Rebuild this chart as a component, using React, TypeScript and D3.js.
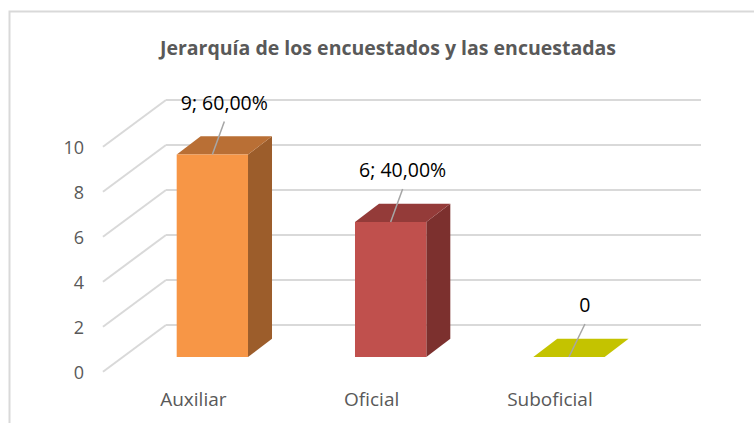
import React from "react"
import * as d3 from "d3"

const categories = ["Auxiliar", "Oficial", "Suboficial"]
const values = [9, 6, 0]
const valueLabels = ["9; 60,00%", "6; 40,00%", "0"]
const yTicks = [0, 2, 4, 6, 8, 10]
const title = "Jerarquía de los encuestados y las encuestadas"

const fronts = ["#F79646", "#C0504D", "#C4C300"]
const tops = ["#B96F35", "#943B39", "#C4C300"]
const sides = ["#9C5D2B", "#7C302E", "#A3A300"]

const W = 754
const H = 423
const FONT = "'Open Sans', 'DejaVu Sans', sans-serif"

export default function App() {
  // back wall and depth of the 3d box
  const backX0 = 166
  const backX1 = 701
  const depth = { dx: -63, dy: 46.7 }
  const yBack = d3.scaleLinear().domain([0, 10]).range([325, 100])

  // bars are drawn in a plane in front of the back wall
  const yFront = d3.scaleLinear().domain([0, 10]).range([357, 132])
  const x = d3
    .scaleBand<string>()
    .domain(categories)
    .range([123.2, 658.1])
    .paddingInner(0.6)
    .paddingOuter(0.3)
  const bw = x.bandwidth()
  const bd = { dx: 24, dy: -18.3 }

  return (
    <svg
      width={W}
      height={H}
      style={{ position: "absolute", left: 0, top: 0, background: "#fff" }}
      fontFamily={FONT}
    >
      <rect x={9.5} y={11.5} width={W + 20} height={H + 20} fill="#fff" stroke="#D9D9D9" strokeWidth={2} />

      <text x={388} y={55} textAnchor="middle" fontSize={19.5} fontWeight="bold" fill="#595959">
        {title}
      </text>

      {/* gridlines on the back wall + diagonal ones on the side */}
      {yTicks.map((t) => (
        <g key={t} stroke="#D9D9D9" strokeWidth={2} fill="none">
          <line x1={backX0} x2={backX1} y1={yBack(t)} y2={yBack(t)} />
          <line x1={backX0} y1={yBack(t)} x2={backX0 + depth.dx} y2={yBack(t) + depth.dy} />
        </g>
      ))}
      {yTicks.map((t) => (
        <text
          key={"l" + t}
          x={84}
          y={yBack(t) + depth.dy + 2}
          textAnchor="end"
          dominantBaseline="middle"
          fontSize={18}
          fill="#595959"
        >
          {t}
        </text>
      ))}

      {categories.map((c, i) => {
        const x0 = x(c) as number
        const x1 = x0 + bw
        const yb = yFront(0)
        const yt = yFront(values[i])
        const cx = x0 + bw / 2
        const top = `M${x0},${yt}L${x0 + bd.dx},${yt + bd.dy}L${x1 + bd.dx},${yt + bd.dy}L${x1},${yt}Z`
        const side = `M${x1},${yt}L${x1 + bd.dx},${yt + bd.dy}L${x1 + bd.dx},${yb + bd.dy}L${x1},${yb}Z`
        const ldx = values[i] === 0 ? 16 : 12
        return (
          <g key={c}>
            {values[i] > 0 && <path d={side} fill={sides[i]} />}
            <path d={top} fill={tops[i]} />
            {values[i] > 0 && <rect x={x0} y={yt} width={bw} height={yb - yt} fill={fronts[i]} />}
            <line x1={cx} y1={yt} x2={cx + ldx} y2={yt - 33} stroke="#A6A6A6" strokeWidth={1.5} />
            <text x={cx + ldx} y={yt - 50} textAnchor="middle" dominantBaseline="middle" fontSize={19.5} fill="#000">
              {valueLabels[i]}
            </text>
            <text x={cx - 19} y={401} textAnchor="middle" dominantBaseline="middle" fontSize={19} fill="#595959">
              {c}
            </text>
          </g>
        )
      })}
    </svg>
  )
}
